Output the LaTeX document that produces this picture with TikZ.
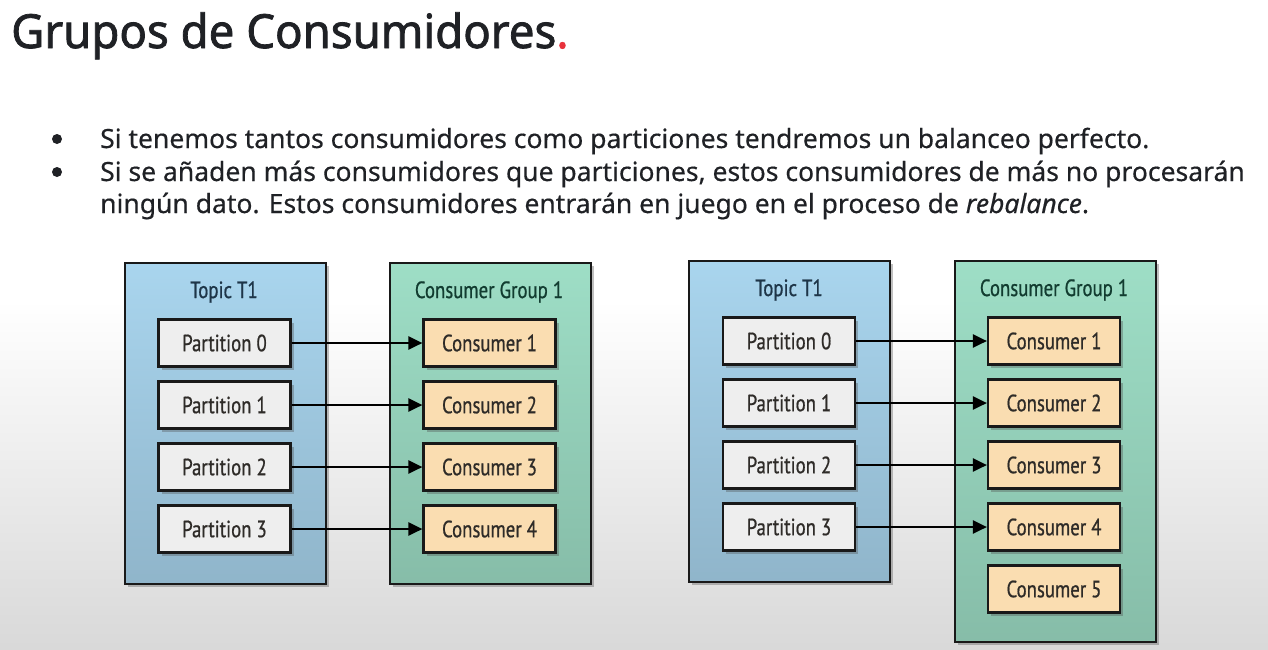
\documentclass[tikz,border=0pt]{standalone}
\usepackage{fontspec}
\setmainfont{Noto Sans}
\newfontfamily\headfont[FakeStretch=0.97,FakeBold=1.6]{Noto Sans}
\newfontfamily\bodyfont[FakeStretch=1.0,FakeBold=0.4]{Noto Sans}
\newfontfamily\diagfont[FakeStretch=0.80,FakeBold=0.7]{PT Sans}
\usetikzlibrary{shadows,arrows.meta}

\definecolor{topicblue}{HTML}{A9D5EE}
\definecolor{groupgreen}{HTML}{9EDEC6}
\definecolor{partgray}{HTML}{EEEEEE}
\definecolor{consumerpeach}{HTML}{FADDB1}
\definecolor{inktext}{HTML}{1F2125}
\definecolor{labelblue}{HTML}{1E3548}
\definecolor{labelgreen}{HTML}{123C30}
\definecolor{itemtext}{HTML}{2E2B28}
\definecolor{dotred}{HTML}{E8323C}

\tikzset{
  boxshadow/.style={drop shadow={shadow xshift=3pt,shadow yshift=-3pt,opacity=0.35,fill=black!70}},
  container/.style={draw=black!90,line width=2.2pt,boxshadow,minimum width=201pt,anchor=north west},
  topicbox/.style={container,top color=topicblue,bottom color=topicblue!85!black},
  groupbox/.style={container,top color=groupgreen,bottom color=groupgreen!85!black},
  itembox/.style={draw=black!90,line width=2.2pt,boxshadow,minimum width=132pt,minimum height=47pt,
    font=\diagfont\fontsize{23.5}{26}\selectfont,text=itemtext,inner sep=0pt},
  partbox/.style={itembox,fill=partgray},
  consbox/.style={itembox,fill=consumerpeach},
  boxtitle/.style={font=\diagfont\fontsize{23.5}{26}\selectfont,inner sep=0pt},
  feed/.style={line width=2.2pt,-{Triangle[length=14pt,width=13pt]}},
  bullet/.style={circle,fill=inktext,minimum size=10pt,inner sep=0pt},
  bodytext/.style={anchor=base west,inner sep=0pt,text=inktext,font=\bodyfont\fontsize{26.5}{33}\selectfont}
}

\begin{document}
\begin{tikzpicture}[x=1pt,y=-1pt]
\useasboundingbox (0,0) rectangle (1268,649);
% page background: white fading to light grey towards the bottom
\fill[white] (0,0) rectangle (1268,300);
\shade[top color=white,bottom color=black!15] (0,300) rectangle (1268,649);

% heading
\node[anchor=base west,inner sep=0pt,text=inktext,font=\headfont\fontsize{47}{50}\selectfont]
  (title) at (11,48) {Grupos de Consumidores\textcolor{dotred}{.}};

% bullet list
\node[bullet] (b1) at (57,139) {};
\node[bullet] (b2) at (57,172) {};
\node[bodytext] (l1) at (100,148) {Si tenemos tantos consumidores como particiones tendremos un balanceo perfecto.};
\node[bodytext] (l2) at (100,181) {Si se añaden más consumidores que particiones, estos consumidores de más no procesarán};
\node[bodytext] (l3) at (100,213) {ningún dato. Estos consumidores entrarán en juego en el proceso de \textit{rebalance}.};

% left diagram: four partitions, four consumers
\node[topicbox,minimum height=321pt] (topicA) at (124,262) {};
\node[groupbox,minimum height=321pt] (groupA) at (389,262) {};
\node[boxtitle,text=labelblue] (topicAlbl) at (224,292) {Topic T1};
\node[boxtitle,text=labelgreen] (groupAlbl) at (489,292) {Consumer Group 1};
\foreach \i/\y in {0/343,1/405,2/467,3/529}{
  \node[partbox] (pA\i) at (224.5,\y) {Partition \i};
}
\foreach \i/\y in {1/343,2/405,3/467,4/529}{
  \node[consbox] (cA\i) at (489.5,\y) {Consumer \i};
}
\foreach \i/\j in {0/1,1/2,2/3,3/4}{
  \draw[feed] (pA\i.east) -- (cA\j.west);
}

% right diagram: four partitions, five consumers
\node[topicbox,minimum height=321pt] (topicB) at (688,260) {};
\node[groupbox,minimum height=381pt] (groupB) at (954,260) {};
\node[boxtitle,text=labelblue] (topicBlbl) at (789,290) {Topic T1};
\node[boxtitle,text=labelgreen] (groupBlbl) at (1054,290) {Consumer Group 1};
\foreach \i/\y in {0/341,1/403,2/465,3/527}{
  \node[partbox] (pB\i) at (789,\y) {Partition \i};
}
\foreach \i/\y in {1/341,2/403,3/465,4/527,5/589}{
  \node[consbox] (cB\i) at (1054,\y) {Consumer \i};
}
\foreach \i/\j in {0/1,1/2,2/3,3/4}{
  \draw[feed] (pB\i.east) -- (cB\j.west);
}
\end{tikzpicture}
\end{document}
